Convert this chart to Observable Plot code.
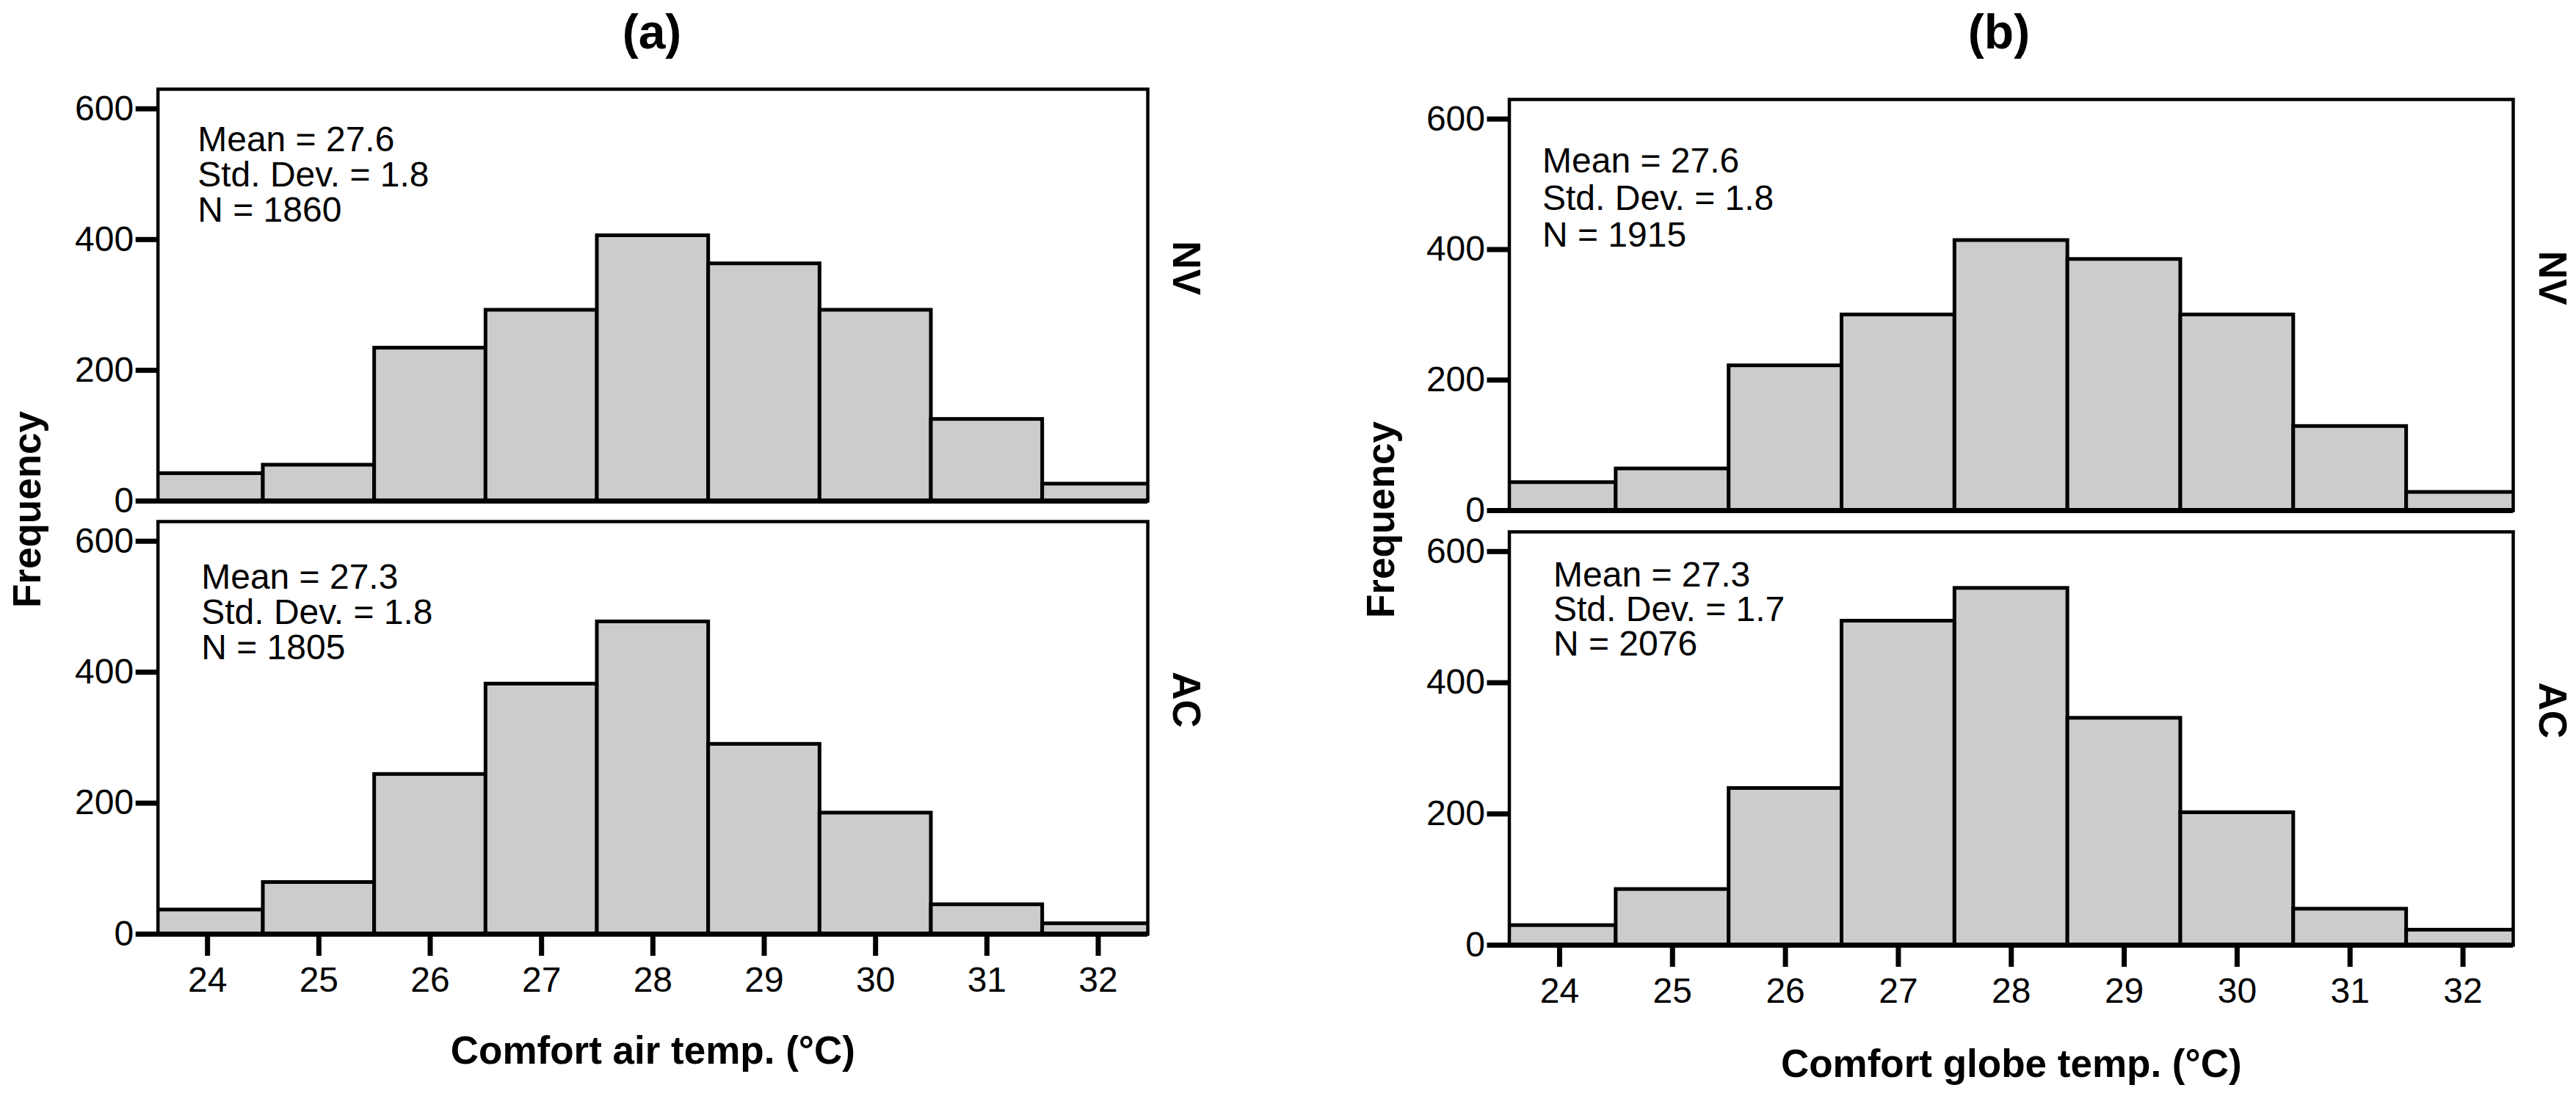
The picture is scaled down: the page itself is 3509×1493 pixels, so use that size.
<!DOCTYPE html>
<html><head><meta charset="utf-8">
<script src="https://cdn.jsdelivr.net/npm/d3@7"></script>
<script src="https://cdn.jsdelivr.net/npm/@observablehq/plot@0.6"></script>
<style>
html,body{margin:0;padding:0;background:#fff;}
#root{position:relative;width:3509px;height:1493px;overflow:hidden;background:#fff;font-family:"Liberation Sans",Arial,sans-serif;}
#root > svg{position:absolute;}
</style></head><body><div id="root"></div>
<script>
// ---- data ----
const bins = [24, 25, 26, 27, 28, 29, 30, 31, 32];
const xTicks = [24, 25, 26, 27, 28, 29, 30, 31, 32];
const yTicks = [0, 200, 400, 600];
const nvAir = [42, 55, 234, 292, 406, 363, 292, 125, 26];
const acAir = [37, 79, 244, 382, 477, 290, 185, 45, 16];
const nvGlobe = [43, 64, 222, 300, 414, 385, 300, 129, 28];
const acGlobe = [30, 85, 239, 494, 544, 346, 202, 55, 23];
const statsNvAir = ["Mean = 27.6", "Std. Dev. = 1.8", "N = 1860"];
const statsAcAir = ["Mean = 27.3", "Std. Dev. = 1.8", "N = 1805"];
const statsNvGlobe = ["Mean = 27.6", "Std. Dev. = 1.8", "N = 1915"];
const statsAcGlobe = ["Mean = 27.3", "Std. Dev. = 1.7", "N = 2076"];
const panelTitles = ["(a)", "(b)"];
const xLabels = ["Comfort air temp. (°C)", "Comfort globe temp. (°C)"];
const groupLabels = ["NV", "AC"];
const yLabel = "Frequency";

const root = document.getElementById("root");
const FONT = '"Liberation Sans", Arial, sans-serif';

function panel(o) {
  const data = bins.map((b, i) => ({bin: b, count: o.counts[i]}));
  const marks = [
    Plot.rectY(data, {x1: d => d.bin - 0.5, x2: d => d.bin + 0.5, y: "count",
      fill: "#cccccc", stroke: "#000", strokeWidth: 5, clip: true}),
    Plot.ruleY([0], {stroke: "#000", strokeWidth: 7}),
    Plot.frame({stroke: "#000", strokeWidth: 4.5}),
    Plot.axisY({ticks: yTicks, tickSize: 30, tickPadding: 3, strokeWidth: 7, label: null, fontSize: 48}),
    Plot.text([o.stats.join("\n")], {frameAnchor: "top-left", dx: o.statDx, dy: o.statDy,
      textAnchor: "start", lineAnchor: "top", lineHeight: o.statLH, fontSize: 48}),
    Plot.text([o.group], {frameAnchor: "right", dx: o.groupDx, rotate: 90,
      fontWeight: "bold", fontSize: 53})
  ];
  if (o.showX) {
    marks.push(Plot.axisX({ticks: xTicks, tickSize: 30, tickPadding: 14, strokeWidth: 7, label: null, fontSize: 48}));
    marks.push(Plot.text([o.xLabel], {frameAnchor: "bottom", dy: o.xLabelDy, lineAnchor: "top",
      fontWeight: "bold", fontSize: 53}));
  }
  const svg = Plot.plot({
    width: o.width, height: o.height,
    marginLeft: o.mL, marginRight: o.mR, marginTop: o.mT, marginBottom: o.mB,
    x: {domain: [23.555, 32.445], axis: o.showX ? undefined : null},
    y: {domain: [0, 630]},
    style: {background: "transparent", overflow: "visible", fontFamily: FONT,
      fontSize: "48px", color: "#000", maxWidth: "none"},
    marks
  });
  svg.style.left = o.left + "px";
  svg.style.top = o.top + "px";
  root.appendChild(svg);
}

panel({counts: nvAir, stats: statsNvAir, group: groupLabels[0], showX: false,
  left: 0, top: 95, width: 1700, height: 600, mL: 214.7, mR: 137, mT: 26, mB: 13,
  statDx: 54, statDy: 50, statLH: 1.0, groupDx: 51});
panel({counts: acAir, stats: statsAcAir, group: groupLabels[1], showX: true, xLabel: xLabels[0], xLabelDy: 139,
  left: 0, top: 695, width: 1700, height: 798, mL: 214.7, mR: 137, mT: 15, mB: 221,
  statDx: 59, statDy: 57, statLH: 1.0, groupDx: 51});
panel({counts: nvGlobe, stats: statsNvGlobe, group: groupLabels[0], showX: false,
  left: 1760, top: 100, width: 1749, height: 605, mL: 295.5, mR: 86, mT: 35, mB: 10,
  statDx: 45, statDy: 63, statLH: 1.06, groupDx: 52});
panel({counts: acGlobe, stats: statsAcGlobe, group: groupLabels[1], showX: true, xLabel: xLabels[1], xLabelDy: 142,
  left: 1760, top: 705, width: 1749, height: 788, mL: 295.5, mR: 86, mT: 19, mB: 206,
  statDx: 60, statDy: 41, statLH: 0.98, groupDx: 52});

// overlay titles and y-axis labels
const ov = d3.select(root).append("svg")
  .attr("width", 3509).attr("height", 1493)
  .style("left", "0px").style("top", "0px")
  .style("pointer-events", "none")
  .style("font-family", FONT);
const titlePos = [[888, 66], [2723, 66]];
panelTitles.forEach((t, i) => {
  ov.append("text").attr("x", titlePos[i][0]).attr("y", titlePos[i][1])
    .attr("text-anchor", "middle").attr("font-weight", "bold").attr("font-size", 66).text(t);
});
const freqPos = [[55, 694], [1899, 708]];
freqPos.forEach(p => {
  ov.append("text").attr("transform", `translate(${p[0]},${p[1]}) rotate(-90)`)
    .attr("text-anchor", "middle").attr("font-weight", "bold").attr("font-size", 53).text(yLabel);
});
</script></body></html>
